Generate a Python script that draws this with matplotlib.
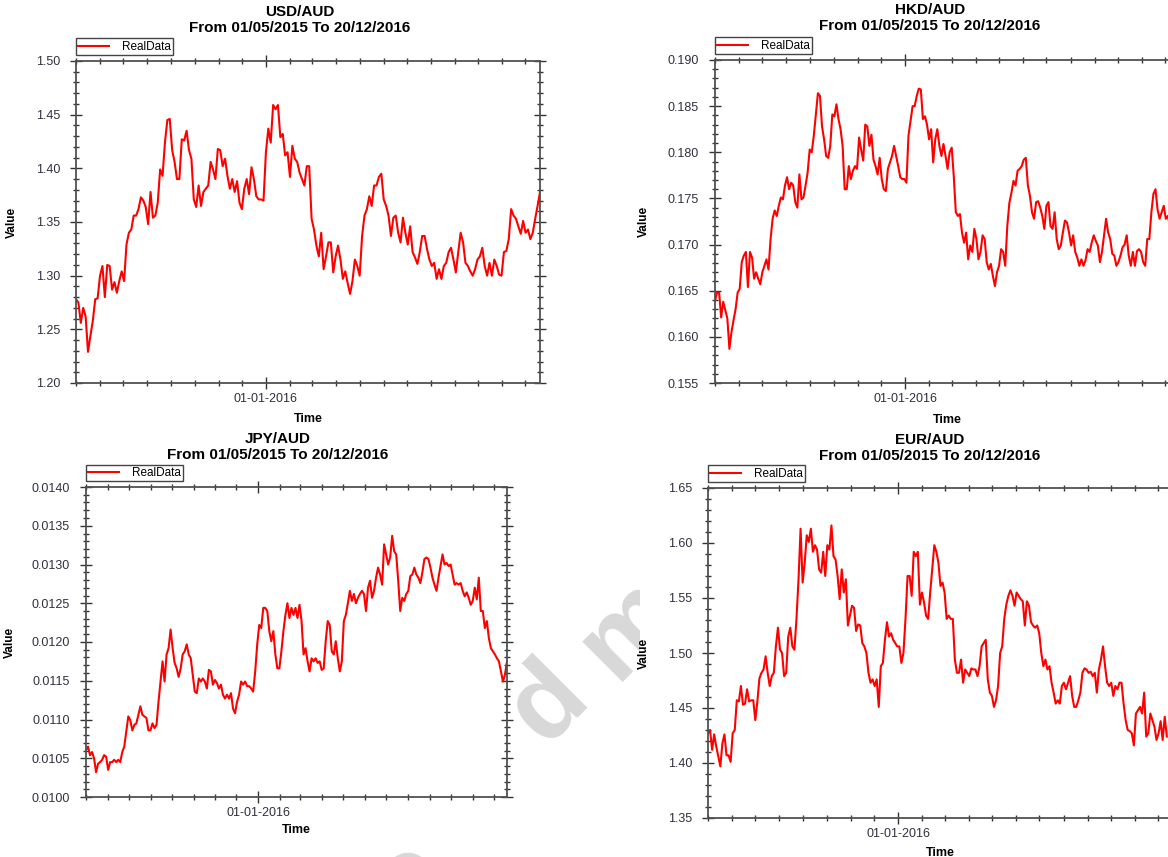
import pandas as pd
import matplotlib
matplotlib.use('Agg')
import matplotlib.pyplot as plt
import matplotlib.dates as mdates
from matplotlib.ticker import MultipleLocator, FormatStrFormatter
from matplotlib.patches import Rectangle

plt.rcParams['font.family'] = ['Liberation Sans', 'DejaVu Sans']

START = '2015-05-01'
END = '2016-12-20'
SUBTITLE = 'From 01/05/2015 To 20/12/2016'

# values, evenly spread over each series' date range
usd_aud = [1.278, 1.275, 1.256, 1.270, 1.262, 1.229, 1.244, 1.258, 1.278, 1.279, 1.300, 1.309, 1.280, 1.310,
           1.309, 1.287, 1.294, 1.284, 1.295, 1.304, 1.295, 1.329, 1.340, 1.343, 1.356, 1.356, 1.362, 1.373,
           1.370, 1.364, 1.348, 1.378, 1.354, 1.356, 1.368, 1.399, 1.393, 1.424, 1.445, 1.446, 1.417, 1.406,
           1.390, 1.390, 1.427, 1.426, 1.435, 1.417, 1.409, 1.371, 1.364, 1.384, 1.365, 1.378, 1.381, 1.384,
           1.406, 1.399, 1.390, 1.418, 1.417, 1.402, 1.409, 1.393, 1.381, 1.390, 1.378, 1.388, 1.368, 1.362,
           1.381, 1.390, 1.376, 1.401, 1.390, 1.374, 1.371, 1.371, 1.370, 1.415, 1.437, 1.424, 1.459, 1.455,
           1.459, 1.429, 1.432, 1.412, 1.415, 1.392, 1.421, 1.409, 1.406, 1.396, 1.390, 1.384, 1.402, 1.402,
           1.353, 1.343, 1.328, 1.318, 1.340, 1.306, 1.318, 1.331, 1.331, 1.303, 1.318, 1.328, 1.315, 1.297,
           1.304, 1.293, 1.283, 1.295, 1.315, 1.309, 1.300, 1.337, 1.356, 1.362, 1.374, 1.365, 1.384, 1.384,
           1.392, 1.395, 1.371, 1.365, 1.356, 1.337, 1.354, 1.356, 1.340, 1.331, 1.354, 1.340, 1.329, 1.346,
           1.322, 1.317, 1.311, 1.322, 1.337, 1.337, 1.325, 1.315, 1.309, 1.312, 1.297, 1.306, 1.297, 1.309,
           1.312, 1.322, 1.326, 1.315, 1.303, 1.322, 1.340, 1.331, 1.312, 1.309, 1.304, 1.300, 1.306, 1.315,
           1.318, 1.326, 1.309, 1.300, 1.312, 1.300, 1.315, 1.309, 1.301, 1.300, 1.322, 1.323, 1.334, 1.362,
           1.356, 1.353, 1.346, 1.339, 1.351, 1.340, 1.343, 1.334, 1.340, 1.353, 1.365, 1.378]

hkd_aud = [0.1639, 0.1648, 0.1648, 0.1621, 0.1638, 0.1629, 0.1620, 0.1587, 0.1605, 0.1618, 0.1630, 0.1648,
           0.1652, 0.1681, 0.1688, 0.1692, 0.1654, 0.1692, 0.1686, 0.1663, 0.1670, 0.1663, 0.1657, 0.1670,
           0.1677, 0.1684, 0.1673, 0.1706, 0.1728, 0.1737, 0.1731, 0.1742, 0.1751, 0.1749, 0.1764, 0.1773,
           0.1760, 0.1767, 0.1764, 0.1746, 0.1740, 0.1776, 0.1749, 0.1751, 0.1764, 0.1778, 0.1803, 0.1800,
           0.1818, 0.1841, 0.1864, 0.1861, 0.1828, 0.1814, 0.1796, 0.1794, 0.1807, 0.1841, 0.1839, 0.1852,
           0.1836, 0.1825, 0.1807, 0.1760, 0.1760, 0.1785, 0.1771, 0.1780, 0.1785, 0.1782, 0.1816, 0.1803,
           0.1791, 0.1830, 0.1828, 0.1807, 0.1819, 0.1792, 0.1785, 0.1776, 0.1794, 0.1771, 0.1760, 0.1758,
           0.1782, 0.1789, 0.1796, 0.1807, 0.1796, 0.1785, 0.1773, 0.1771, 0.1771, 0.1767, 0.1818, 0.1834,
           0.1850, 0.1850, 0.1861, 0.1869, 0.1868, 0.1836, 0.1839, 0.1830, 0.1814, 0.1825, 0.1789, 0.1814,
           0.1825, 0.1807, 0.1796, 0.1809, 0.1796, 0.1782, 0.1800, 0.1805, 0.1774, 0.1735, 0.1731, 0.1733,
           0.1713, 0.1702, 0.1713, 0.1684, 0.1699, 0.1692, 0.1717, 0.1706, 0.1684, 0.1692, 0.1710, 0.1706,
           0.1681, 0.1673, 0.1679, 0.1666, 0.1655, 0.1670, 0.1677, 0.1695, 0.1692, 0.1677, 0.1720, 0.1745,
           0.1756, 0.1769, 0.1764, 0.1780, 0.1782, 0.1785, 0.1792, 0.1794, 0.1764, 0.1753, 0.1735, 0.1728,
           0.1746, 0.1747, 0.1740, 0.1731, 0.1717, 0.1742, 0.1746, 0.1720, 0.1717, 0.1735, 0.1706, 0.1695,
           0.1699, 0.1713, 0.1726, 0.1724, 0.1713, 0.1699, 0.1710, 0.1692, 0.1686, 0.1677, 0.1684, 0.1677,
           0.1683, 0.1695, 0.1692, 0.1702, 0.1710, 0.1704, 0.1699, 0.1681, 0.1692, 0.1710, 0.1728, 0.1713,
           0.1706, 0.1690, 0.1688, 0.1677, 0.1681, 0.1688, 0.1697, 0.1700, 0.1710, 0.1688, 0.1677, 0.1692,
           0.1677, 0.1693, 0.1695, 0.1692, 0.1681, 0.1677, 0.1706, 0.1706, 0.1735, 0.1755, 0.1760, 0.1738,
           0.1728, 0.1735, 0.1742, 0.1728, 0.1731, 0.1720]
hkd_last_day = '2016-12-07'

jpy_aud = [0.010605, 0.01065, 0.01054, 0.01058, 0.01050, 0.01032, 0.01043, 0.01045, 0.01048, 0.01054,
           0.01052, 0.01035, 0.01045, 0.01045, 0.01048, 0.01045, 0.01048, 0.01045, 0.01058, 0.01065,
           0.01084, 0.01104, 0.01099, 0.01086, 0.01093, 0.01095, 0.01106, 0.01117, 0.01106, 0.01104,
           0.01102, 0.01086, 0.01086, 0.01095, 0.01089, 0.01093, 0.01123, 0.01149, 0.01175, 0.01149,
           0.01184, 0.01192, 0.01216, 0.01192, 0.01173, 0.01166, 0.01155, 0.01166, 0.01184, 0.01188,
           0.01197, 0.01184, 0.01179, 0.01158, 0.01136, 0.01134, 0.01153, 0.01149, 0.01153, 0.01149,
           0.01140, 0.01164, 0.01162, 0.01145, 0.01151, 0.01147, 0.01140, 0.01145, 0.01132, 0.01127,
           0.01132, 0.01127, 0.01134, 0.01114, 0.01108, 0.01123, 0.01132, 0.01149, 0.01145, 0.01149,
           0.01143, 0.01143, 0.01140, 0.01136, 0.01162, 0.01197, 0.01222, 0.01218, 0.01244, 0.01244,
           0.01240, 0.01214, 0.01201, 0.01214, 0.01184, 0.01166, 0.01166, 0.01188, 0.01214, 0.01235,
           0.01250, 0.01231, 0.01244, 0.01235, 0.01244, 0.01231, 0.01248, 0.01227, 0.01184, 0.01192,
           0.01175, 0.01162, 0.01179, 0.01175, 0.01179, 0.01173, 0.01175, 0.01164, 0.01166, 0.01201,
           0.01227, 0.01222, 0.01188, 0.01184, 0.01201, 0.01179, 0.01162, 0.01175, 0.01227, 0.01235,
           0.01250, 0.01266, 0.01253, 0.01262, 0.01250, 0.01257, 0.01262, 0.01266, 0.01262, 0.01240,
           0.01270, 0.01279, 0.01257, 0.01266, 0.01283, 0.01296, 0.01287, 0.01274, 0.01326, 0.01313,
           0.01300, 0.01309, 0.01337, 0.01317, 0.01313, 0.01279, 0.01240, 0.01257, 0.01253, 0.01262,
           0.01266, 0.01285, 0.01287, 0.01296, 0.01287, 0.01283, 0.01276, 0.01290, 0.01307, 0.01309,
           0.01307, 0.01296, 0.01283, 0.01274, 0.01266, 0.01283, 0.01298, 0.01313, 0.01300, 0.01302,
           0.01298, 0.01300, 0.01287, 0.01274, 0.01276, 0.01274, 0.01276, 0.01266, 0.01259, 0.01264,
           0.01257, 0.01248, 0.01253, 0.01270, 0.01255, 0.01283, 0.01240, 0.01240, 0.01218, 0.01227,
           0.01205, 0.01192, 0.01188, 0.01184, 0.01179, 0.01175, 0.01162, 0.01149, 0.01158, 0.01175]

eur_aud = [1.427, 1.430, 1.412, 1.426, 1.415, 1.406, 1.397, 1.418, 1.426, 1.407, 1.407, 1.401, 1.427, 1.430,
           1.457, 1.456, 1.470, 1.453, 1.454, 1.467, 1.456, 1.457, 1.457, 1.439, 1.456, 1.477, 1.482, 1.485,
           1.497, 1.482, 1.470, 1.479, 1.482, 1.506, 1.523, 1.503, 1.500, 1.479, 1.482, 1.515, 1.523, 1.506,
           1.503, 1.531, 1.567, 1.613, 1.564, 1.582, 1.607, 1.601, 1.613, 1.592, 1.598, 1.594, 1.576, 1.573,
           1.592, 1.570, 1.598, 1.594, 1.616, 1.588, 1.585, 1.570, 1.549, 1.576, 1.555, 1.567, 1.525, 1.534,
           1.543, 1.541, 1.520, 1.526, 1.525, 1.509, 1.506, 1.500, 1.482, 1.473, 1.476, 1.470, 1.476, 1.451,
           1.488, 1.491, 1.512, 1.528, 1.515, 1.518, 1.512, 1.509, 1.506, 1.506, 1.491, 1.500, 1.531, 1.570,
           1.570, 1.552, 1.592, 1.588, 1.592, 1.544, 1.555, 1.546, 1.534, 1.531, 1.555, 1.576, 1.598, 1.592,
           1.582, 1.561, 1.564, 1.555, 1.531, 1.534, 1.531, 1.531, 1.494, 1.482, 1.482, 1.494, 1.473, 1.485,
           1.482, 1.479, 1.486, 1.485, 1.485, 1.479, 1.488, 1.506, 1.509, 1.512, 1.476, 1.464, 1.461, 1.451,
           1.457, 1.470, 1.500, 1.506, 1.531, 1.544, 1.552, 1.557, 1.552, 1.543, 1.555, 1.552, 1.549, 1.547,
           1.525, 1.547, 1.543, 1.528, 1.525, 1.523, 1.525, 1.518, 1.500, 1.488, 1.494, 1.485, 1.488, 1.473,
           1.464, 1.454, 1.457, 1.454, 1.470, 1.473, 1.467, 1.473, 1.479, 1.461, 1.451, 1.451, 1.457, 1.464,
           1.482, 1.486, 1.485, 1.482, 1.483, 1.479, 1.482, 1.464, 1.485, 1.494, 1.506, 1.488, 1.473, 1.470,
           1.473, 1.461, 1.470, 1.467, 1.473, 1.473, 1.454, 1.439, 1.430, 1.429, 1.427, 1.416, 1.445, 1.448,
           1.451, 1.445, 1.464, 1.424, 1.427, 1.445, 1.439, 1.433, 1.421, 1.427, 1.438, 1.421, 1.442, 1.424]
eur_last_day = '2016-12-12'

W, H = 1168, 857


def px_box(left, top, width, bottom):
    return [left / W, 1 - bottom / H, width / W, (bottom - top) / H]


def draw_panel(ax, values, last_day, ylim, major, fmt, ylab_x, xlab_off, right_ticks=True):
    dates = pd.date_range(START, last_day, periods=len(values))
    ax.plot(dates, values, color='#ff0000', lw=1.5, label='RealData')
    ax.set_xlim(pd.Timestamp(START), pd.Timestamp(END))
    ax.set_ylim(*ylim)

    ax.xaxis.set_major_locator(mdates.YearLocator())
    ax.xaxis.set_major_formatter(mdates.DateFormatter('%d-%m-%Y'))
    ax.xaxis.set_minor_locator(mdates.MonthLocator())
    ax.yaxis.set_major_locator(MultipleLocator(major))
    ax.yaxis.set_minor_locator(MultipleLocator(major / 5))
    ax.yaxis.set_major_formatter(FormatStrFormatter(fmt))

    ax.tick_params(which='both', direction='inout', top=True, right=right_ticks,
                   color='#333333', labelcolor='#303040', labelsize=9, width=1.0)
    ax.tick_params(which='major', length=9)
    ax.tick_params(axis='y', which='major', pad=7)
    ax.tick_params(axis='x', which='major', pad=3)
    ax.tick_params(which='minor', length=5)
    for s in ax.spines.values():
        s.set_color('#505050')
        s.set_linewidth(1.3)

    ax.set_ylabel('Value', fontweight='bold', fontsize=8.5)
    ax.yaxis.set_label_coords(ylab_x, 0.5)
    ax.set_xlabel('Time', fontweight='bold', fontsize=9)
    ax.xaxis.set_label_coords(0.5, xlab_off)

    ax.legend(loc='lower left', bbox_to_anchor=(0, 1.018), borderaxespad=0,
              fancybox=False, edgecolor='#444444', framealpha=1, fontsize=8.5,
              handlelength=2.6, handletextpad=1.1, borderpad=0.2)


fig = plt.figure(figsize=(W / 100, H / 100), dpi=100)
fig.patch.set_facecolor('white')

# faint watermark letters behind the charts
for ch, (cx, cy) in [('c', (410, 880)), ('d', (548, 703)), ('m', (630, 628))]:
    fig.text(cx / W, 1 - cy / H, ch, rotation=45, fontsize=78, fontweight='bold',
             color='#d8d8d8', ha='center', va='center', zorder=-3)
fig.patches.append(Rectangle((640 / W, 0), 1 - 640 / W, 0.5, transform=fig.transFigure,
                             facecolor='white', edgecolor='none', zorder=-2))

ax1 = fig.add_axes(px_box(76, 61, 464, 383))
draw_panel(ax1, usd_aud, END, (1.20, 1.50), 0.05, '%.2f', -0.125, -0.094)

ax2 = fig.add_axes(px_box(715, 60, 465, 383))
draw_panel(ax2, hkd_aud, hkd_last_day, (0.155, 0.190), 0.005, '%.3f', -0.14, -0.096, False)

ax3 = fig.add_axes(px_box(86, 487, 421, 797))
draw_panel(ax3, jpy_aud, END, (0.0100, 0.0140), 0.0005, '%.4f', -0.167, -0.086)

ax4 = fig.add_axes(px_box(708, 488, 465, 818))
draw_panel(ax4, eur_aud, eur_last_day, (1.35, 1.65), 0.05, '%.2f', -0.125, -0.088, False)

titles = [('USD/AUD', 300, 5), ('HKD/AUD', 930, 3), ('JPY/AUD', 278, 432), ('EUR/AUD', 930, 433)]
for pair, cx, top in titles:
    fig.text(cx / W, 1 - top / H, pair + '\n' + SUBTITLE, ha='center', va='top',
             fontsize=11, fontweight='bold', linespacing=1.15)

fig.savefig('out.png', dpi=100, facecolor='white')
